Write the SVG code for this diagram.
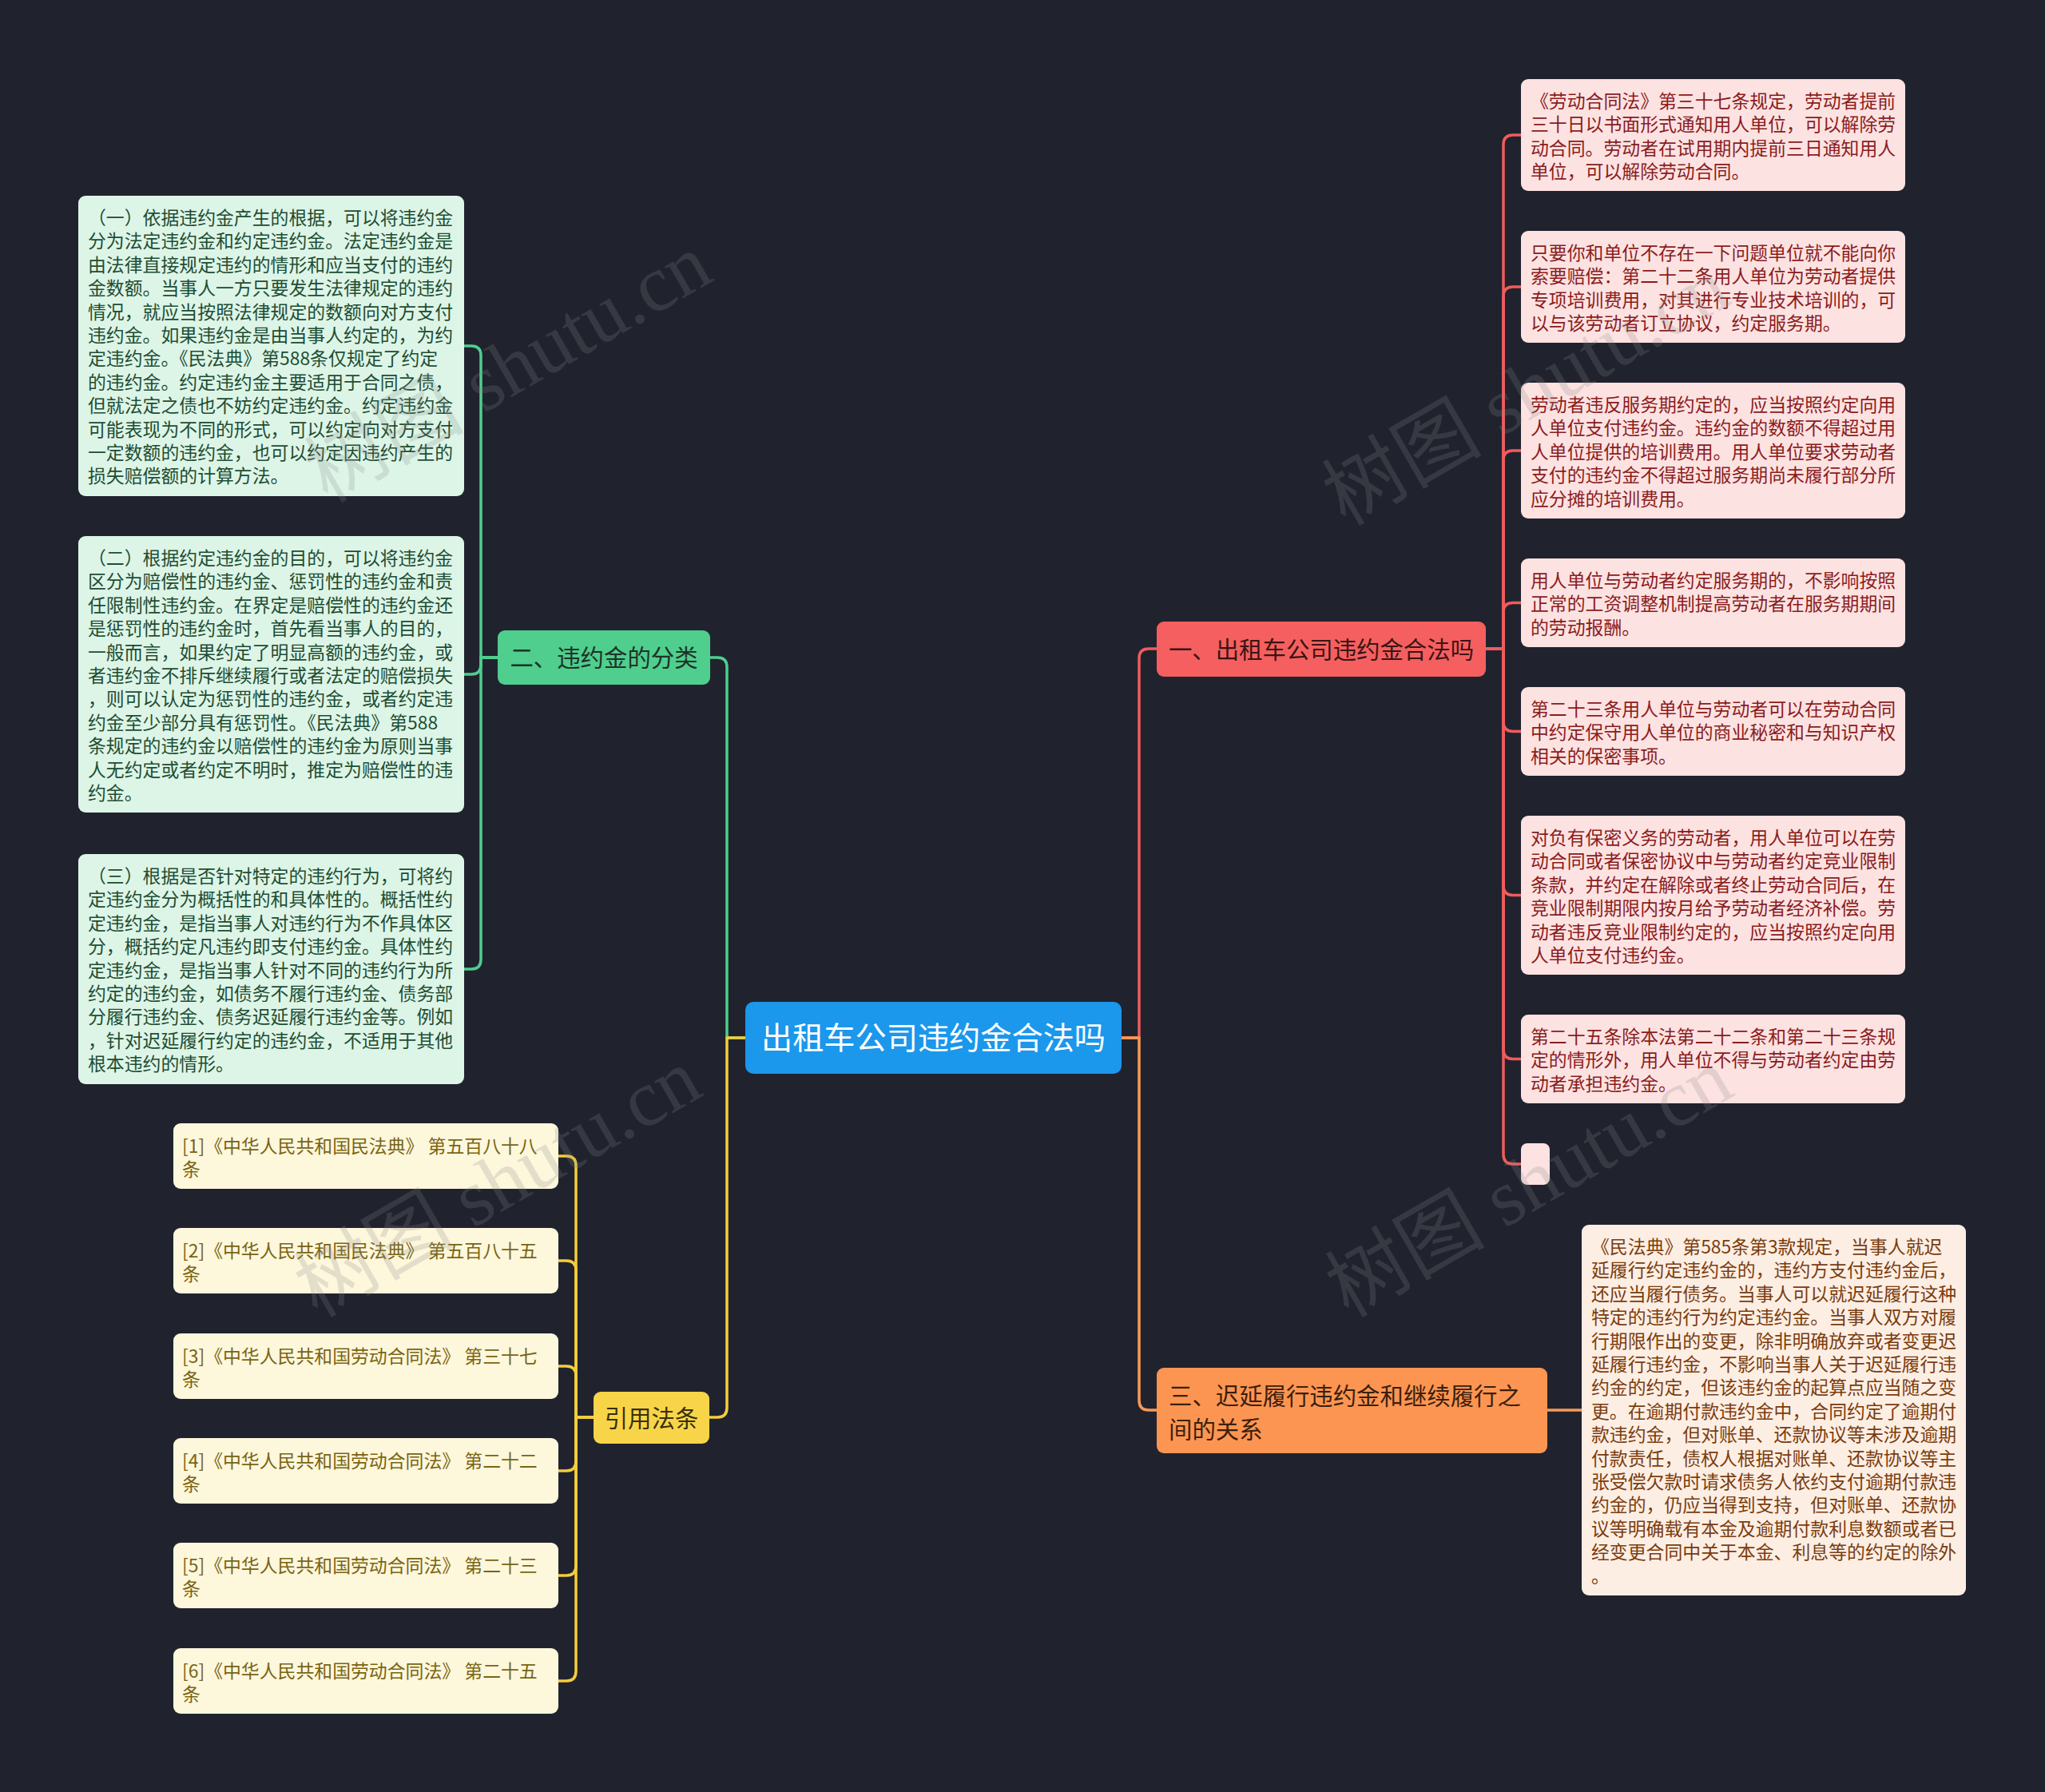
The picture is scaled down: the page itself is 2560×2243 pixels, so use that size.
<svg xmlns="http://www.w3.org/2000/svg" width="2560" height="2243" viewBox="0 0 2560 2243">
<defs>
<style>
text{font-family:"Noto Sans CJK SC","Noto Sans",sans-serif;}
.leaf text{font-size:22.86px;}
.main text{font-size:29.4px;}
.conn path{fill:none;stroke-width:3.5;stroke-linejoin:round;stroke-linecap:round;}
.cg{stroke:#4fce8e;}
.cy{stroke:#f4cd3c;}
.cr{stroke:#f05c5c;}
.co{stroke:#f99a55;}
.gl rect{fill:#ddf5e7;} .gl text{fill:#1d4d33;}
.yl rect{fill:#fdf7dc;} .yl text{fill:#7a6412;}
.rl rect{fill:#fde2e2;} .rl text{fill:#8a1c1c;}
.ol rect{fill:#fdeee3;} .ol text{fill:#7a3c0e;}
.wm{font-family:"Liberation Serif","Noto Sans CJK SC",serif;font-size:100px;fill:#8a8a8a;opacity:0.22;text-anchor:middle;}
</style>
</defs>
<rect x="0" y="0" width="2560" height="2243" fill="#20232e"/>

<g id="connectors" class="conn">
<path class="cg" d="M933,1299 H910 V835 Q910,823 898,823 H889"/>
<path class="cg" d="M623,823 H602 V445 Q602,433 590,433 H581"/>
<path class="cg" d="M623,823 H602 V832 Q602,844 590,844 H581"/>
<path class="cg" d="M623,823 H602 V1201 Q602,1213 590,1213 H581"/>
<path class="cy" d="M933,1299 H910 V1762 Q910,1774 898,1774 H888"/>
<path class="cy" d="M743,1774 H721 V1459 Q721,1447 709,1447 H699"/>
<path class="cy" d="M743,1774 H721 V1590 Q721,1578 709,1578 H699"/>
<path class="cy" d="M743,1774 H721 V1722 Q721,1710 709,1710 H699"/>
<path class="cy" d="M743,1774 H721 V1829 Q721,1841 709,1841 H699"/>
<path class="cy" d="M743,1774 H721 V1960 Q721,1972 709,1972 H699"/>
<path class="cy" d="M743,1774 H721 V2092 Q721,2104 709,2104 H699"/>
<path class="cr" d="M1404,1299 H1426 V824 Q1426,812 1438,812 H1448"/>
<path class="cr" d="M1860,812 H1882 V181 Q1882,169 1894,169 H1904"/>
<path class="cr" d="M1860,812 H1882 V371 Q1882,359 1894,359 H1904"/>
<path class="cr" d="M1860,812 H1882 V576 Q1882,564 1894,564 H1904"/>
<path class="cr" d="M1860,812 H1882 V766.5 Q1882,754.5 1894,754.5 H1904"/>
<path class="cr" d="M1860,812 H1882 V903.5 Q1882,915.5 1894,915.5 H1904"/>
<path class="cr" d="M1860,812 H1882 V1108.5 Q1882,1120.5 1894,1120.5 H1904"/>
<path class="cr" d="M1860,812 H1882 V1313.5 Q1882,1325.5 1894,1325.5 H1904"/>
<path class="cr" d="M1860,812 H1882 V1445 Q1882,1457 1894,1457 H1904"/>
<path class="co" d="M1404,1299 H1426 V1753 Q1426,1765 1438,1765 H1448"/>
<path class="co" d="M1937,1765 H1980"/>
</g>

<g id="root" class="main">
<rect x="933" y="1254" width="471" height="90" rx="10" fill="#1b97ec"/>
<text x="1168.5" y="1313" text-anchor="middle" fill="#ffffff" style="font-size:39.2px">出租车公司违约金合法吗</text>
</g>

<g id="n-classify" class="main">
<rect x="623" y="789" width="266" height="68" rx="9" fill="#4fce8e"/>
<text x="756" y="834" text-anchor="middle" fill="#1e3326">二、违约金的分类</text>
</g>

<g id="n-legal" class="main">
<rect x="1448" y="778" width="412" height="69" rx="9" fill="#f55f5f"/>
<text x="1654" y="824" text-anchor="middle" fill="#3a1414">一、出租车公司违约金合法吗</text>
</g>

<g id="n-delay" class="main">
<rect x="1448" y="1712" width="489" height="107" rx="9" fill="#fd9552"/>
<text fill="#3b200c"><tspan x="1463" y="1758">三、迟延履行违约金和继续履行之</tspan><tspan x="1463" y="1800">间的关系</tspan></text>
</g>

<g id="n-cite" class="main">
<rect x="743" y="1742" width="145" height="65" rx="9" fill="#f8d548"/>
<text x="815.5" y="1786" text-anchor="middle" fill="#3a300a">引用法条</text>
</g>

<g id="g1" class="leaf gl">
<rect x="98" y="245" width="483" height="376" rx="9"/>
<text><tspan x="110" y="281">（一）依据违约金产生的根据，可以将违约金</tspan><tspan x="110" y="310.4">分为法定违约金和约定违约金。法定违约金是</tspan><tspan x="110" y="339.8">由法律直接规定违约的情形和应当支付的违约</tspan><tspan x="110" y="369.2">金数额。当事人一方只要发生法律规定的违约</tspan><tspan x="110" y="398.6">情况，就应当按照法律规定的数额向对方支付</tspan><tspan x="110" y="428">违约金。如果违约金是由当事人约定的，为约</tspan><tspan x="110" y="457.4">定违约金。《民法典》第588条仅规定了约定</tspan><tspan x="110" y="486.8">的违约金。约定违约金主要适用于合同之债，</tspan><tspan x="110" y="516.2">但就法定之债也不妨约定违约金。约定违约金</tspan><tspan x="110" y="545.6">可能表现为不同的形式，可以约定向对方支付</tspan><tspan x="110" y="575">一定数额的违约金，也可以约定因违约产生的</tspan><tspan x="110" y="604.4">损失赔偿额的计算方法。</tspan></text>
</g>

<g id="g2" class="leaf gl">
<rect x="98" y="671" width="483" height="346" rx="9"/>
<text><tspan x="110" y="707">（二）根据约定违约金的目的，可以将违约金</tspan><tspan x="110" y="736.4">区分为赔偿性的违约金、惩罚性的违约金和责</tspan><tspan x="110" y="765.8">任限制性违约金。在界定是赔偿性的违约金还</tspan><tspan x="110" y="795.2">是惩罚性的违约金时，首先看当事人的目的，</tspan><tspan x="110" y="824.6">一般而言，如果约定了明显高额的违约金，或</tspan><tspan x="110" y="854">者违约金不排斥继续履行或者法定的赔偿损失</tspan><tspan x="110" y="883.4">，则可以认定为惩罚性的违约金，或者约定违</tspan><tspan x="110" y="912.8">约金至少部分具有惩罚性。《民法典》第588</tspan><tspan x="110" y="942.2">条规定的违约金以赔偿性的违约金为原则当事</tspan><tspan x="110" y="971.6">人无约定或者约定不明时，推定为赔偿性的违</tspan><tspan x="110" y="1001">约金。</tspan></text>
</g>

<g id="g3" class="leaf gl">
<rect x="98" y="1069" width="483" height="288" rx="9"/>
<text><tspan x="110" y="1105">（三）根据是否针对特定的违约行为，可将约</tspan><tspan x="110" y="1134.4">定违约金分为概括性的和具体性的。概括性约</tspan><tspan x="110" y="1163.8">定违约金，是指当事人对违约行为不作具体区</tspan><tspan x="110" y="1193.2">分，概括约定凡违约即支付违约金。具体性约</tspan><tspan x="110" y="1222.6">定违约金，是指当事人针对不同的违约行为所</tspan><tspan x="110" y="1252">约定的违约金，如债务不履行违约金、债务部</tspan><tspan x="110" y="1281.4">分履行违约金、债务迟延履行违约金等。例如</tspan><tspan x="110" y="1310.8">，针对迟延履行约定的违约金，不适用于其他</tspan><tspan x="110" y="1340.2">根本违约的情形。</tspan></text>
</g>

<g id="y1" class="leaf yl">
<rect x="217" y="1406" width="482" height="82" rx="9"/>
<text><tspan x="228" y="1443">[1]《中华人民共和国民法典》 第五百八十八</tspan><tspan x="228" y="1472.4">条</tspan></text>
</g>
<g id="y2" class="leaf yl">
<rect x="217" y="1537" width="482" height="82" rx="9"/>
<text><tspan x="228" y="1574">[2]《中华人民共和国民法典》 第五百八十五</tspan><tspan x="228" y="1603.4">条</tspan></text>
</g>
<g id="y3" class="leaf yl">
<rect x="217" y="1669" width="482" height="82" rx="9"/>
<text><tspan x="228" y="1706">[3]《中华人民共和国劳动合同法》 第三十七</tspan><tspan x="228" y="1735.4">条</tspan></text>
</g>
<g id="y4" class="leaf yl">
<rect x="217" y="1800" width="482" height="82" rx="9"/>
<text><tspan x="228" y="1837">[4]《中华人民共和国劳动合同法》 第二十二</tspan><tspan x="228" y="1866.4">条</tspan></text>
</g>
<g id="y5" class="leaf yl">
<rect x="217" y="1931" width="482" height="82" rx="9"/>
<text><tspan x="228" y="1968">[5]《中华人民共和国劳动合同法》 第二十三</tspan><tspan x="228" y="1997.4">条</tspan></text>
</g>
<g id="y6" class="leaf yl">
<rect x="217" y="2063" width="482" height="82" rx="9"/>
<text><tspan x="228" y="2100">[6]《中华人民共和国劳动合同法》 第二十五</tspan><tspan x="228" y="2129.4">条</tspan></text>
</g>

<g id="r1" class="leaf rl">
<rect x="1904" y="99" width="481" height="140" rx="9"/>
<text><tspan x="1916" y="135">《劳动合同法》第三十七条规定，劳动者提前</tspan><tspan x="1916" y="164.4">三十日以书面形式通知用人单位，可以解除劳</tspan><tspan x="1916" y="193.8">动合同。劳动者在试用期内提前三日通知用人</tspan><tspan x="1916" y="223.2">单位，可以解除劳动合同。</tspan></text>
</g>
<g id="r2" class="leaf rl">
<rect x="1904" y="289" width="481" height="140" rx="9"/>
<text><tspan x="1916" y="325">只要你和单位不存在一下问题单位就不能向你</tspan><tspan x="1916" y="354.4">索要赔偿：第二十二条用人单位为劳动者提供</tspan><tspan x="1916" y="383.8">专项培训费用，对其进行专业技术培训的，可</tspan><tspan x="1916" y="413.2">以与该劳动者订立协议，约定服务期。</tspan></text>
</g>
<g id="r3" class="leaf rl">
<rect x="1904" y="479" width="481" height="170" rx="9"/>
<text><tspan x="1916" y="515">劳动者违反服务期约定的，应当按照约定向用</tspan><tspan x="1916" y="544.4">人单位支付违约金。违约金的数额不得超过用</tspan><tspan x="1916" y="573.8">人单位提供的培训费用。用人单位要求劳动者</tspan><tspan x="1916" y="603.2">支付的违约金不得超过服务期尚未履行部分所</tspan><tspan x="1916" y="632.6">应分摊的培训费用。</tspan></text>
</g>
<g id="r4" class="leaf rl">
<rect x="1904" y="699" width="481" height="111" rx="9"/>
<text><tspan x="1916" y="735">用人单位与劳动者约定服务期的，不影响按照</tspan><tspan x="1916" y="764.4">正常的工资调整机制提高劳动者在服务期期间</tspan><tspan x="1916" y="793.8">的劳动报酬。</tspan></text>
</g>
<g id="r5" class="leaf rl">
<rect x="1904" y="860" width="481" height="111" rx="9"/>
<text><tspan x="1916" y="896">第二十三条用人单位与劳动者可以在劳动合同</tspan><tspan x="1916" y="925.4">中约定保守用人单位的商业秘密和与知识产权</tspan><tspan x="1916" y="954.8">相关的保密事项。</tspan></text>
</g>
<g id="r6" class="leaf rl">
<rect x="1904" y="1021" width="481" height="199" rx="9"/>
<text><tspan x="1916" y="1057">对负有保密义务的劳动者，用人单位可以在劳</tspan><tspan x="1916" y="1086.4">动合同或者保密协议中与劳动者约定竞业限制</tspan><tspan x="1916" y="1115.8">条款，并约定在解除或者终止劳动合同后，在</tspan><tspan x="1916" y="1145.2">竞业限制期限内按月给予劳动者经济补偿。劳</tspan><tspan x="1916" y="1174.6">动者违反竞业限制约定的，应当按照约定向用</tspan><tspan x="1916" y="1204">人单位支付违约金。</tspan></text>
</g>
<g id="r7" class="leaf rl">
<rect x="1904" y="1270" width="481" height="111" rx="9"/>
<text><tspan x="1916" y="1306">第二十五条除本法第二十二条和第二十三条规</tspan><tspan x="1916" y="1335.4">定的情形外，用人单位不得与劳动者约定由劳</tspan><tspan x="1916" y="1364.8">动者承担违约金。</tspan></text>
</g>
<g id="r8" class="leaf rl">
<rect x="1904" y="1431" width="36" height="52" rx="8"/>
</g>

<g id="o1" class="leaf ol">
<rect x="1980" y="1533" width="481" height="464" rx="9"/>
<text><tspan x="1992" y="1569">《民法典》第585条第3款规定，当事人就迟</tspan><tspan x="1992" y="1598.4">延履行约定违约金的，违约方支付违约金后，</tspan><tspan x="1992" y="1627.8">还应当履行债务。当事人可以就迟延履行这种</tspan><tspan x="1992" y="1657.2">特定的违约行为约定违约金。当事人双方对履</tspan><tspan x="1992" y="1686.6">行期限作出的变更，除非明确放弃或者变更迟</tspan><tspan x="1992" y="1716">延履行违约金，不影响当事人关于迟延履行违</tspan><tspan x="1992" y="1745.4">约金的约定，但该违约金的起算点应当随之变</tspan><tspan x="1992" y="1774.8">更。在逾期付款违约金中，合同约定了逾期付</tspan><tspan x="1992" y="1804.2">款违约金，但对账单、还款协议等未涉及逾期</tspan><tspan x="1992" y="1833.6">付款责任，债权人根据对账单、还款协议等主</tspan><tspan x="1992" y="1863">张受偿欠款时请求债务人依约支付逾期付款违</tspan><tspan x="1992" y="1892.4">约金的，仍应当得到支持，但对账单、还款协</tspan><tspan x="1992" y="1921.8">议等明确载有本金及逾期付款利息数额或者已</tspan><tspan x="1992" y="1951.2">经变更合同中关于本金、利息等的约定的除外</tspan><tspan x="1992" y="1980.6">。</tspan></text>
</g>

<g id="watermark">
<text class="wm" transform="translate(653,490) rotate(-30)">树图 shutu.cn</text>
<text class="wm" transform="translate(640,1510) rotate(-30)">树图 shutu.cn</text>
<text class="wm" transform="translate(1927,519) rotate(-30)">树图 shutu.cn</text>
<text class="wm" transform="translate(1931,1510) rotate(-30)">树图 shutu.cn</text>
</g>
</svg>
